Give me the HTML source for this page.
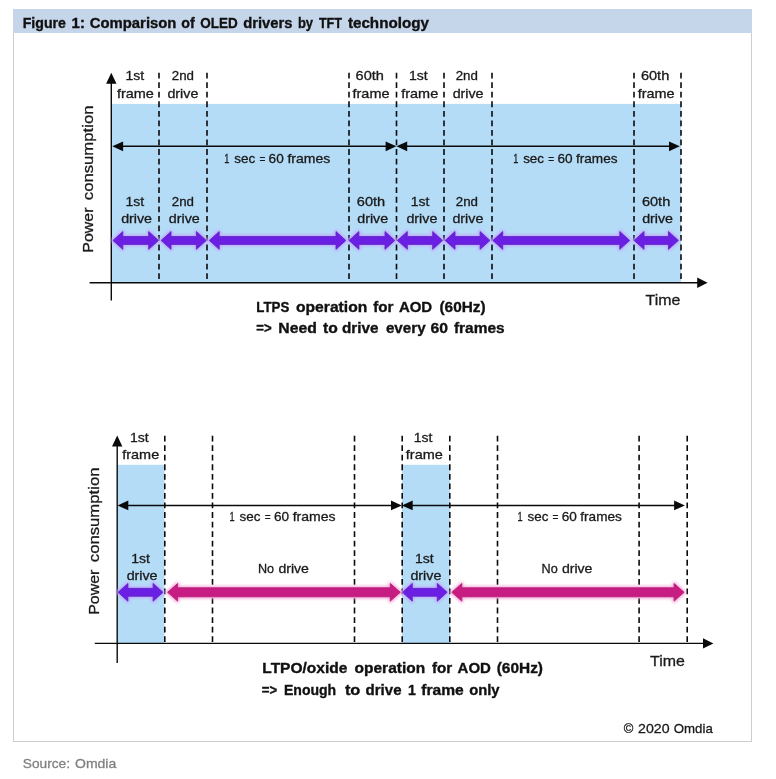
<!DOCTYPE html>
<html><head><meta charset="utf-8"><title>Figure 1</title>
<style>
html,body{margin:0;padding:0;background:#fff;}
body{width:776px;height:779px;overflow:hidden;font-family:"Liberation Sans",sans-serif;}
svg{display:block;will-change:transform;}
svg text{font-family:"Liberation Sans",sans-serif;}
</style></head><body>
<svg width="776" height="779" viewBox="0 0 776 779">
<defs><filter id="gl" x="-20%" y="-60%" width="140%" height="220%"><feGaussianBlur stdDeviation="1.5"/></filter></defs>
<g>

<rect x="13.5" y="9.5" width="738" height="732" fill="#ffffff" stroke="#cdcdcd" stroke-width="1"/>
<rect x="13" y="9" width="739" height="24" fill="#c6d6ea"/>
<text x="22.70" y="27.5" font-size="14.7" font-weight="bold" fill="#111" stroke="#111" stroke-width="0.35" textLength="43.31" lengthAdjust="spacingAndGlyphs">Figure</text>
<text x="71.60" y="27.5" font-size="14.7" font-weight="bold" fill="#111" stroke="#111" stroke-width="0.35" textLength="13.29" lengthAdjust="spacingAndGlyphs">1:</text>
<text x="89.80" y="27.5" font-size="14.7" font-weight="bold" fill="#111" stroke="#111" stroke-width="0.35" textLength="86.59" lengthAdjust="spacingAndGlyphs">Comparison</text>
<text x="181.30" y="27.5" font-size="14.7" font-weight="bold" fill="#111" stroke="#111" stroke-width="0.35" textLength="13.48" lengthAdjust="spacingAndGlyphs">of</text>
<text x="200.30" y="27.5" font-size="14.7" font-weight="bold" fill="#111" stroke="#111" stroke-width="0.35" textLength="37.41" lengthAdjust="spacingAndGlyphs">OLED</text>
<text x="243.20" y="27.5" font-size="14.7" font-weight="bold" fill="#111" stroke="#111" stroke-width="0.35" textLength="49.21" lengthAdjust="spacingAndGlyphs">drivers</text>
<text x="297.90" y="27.5" font-size="14.7" font-weight="bold" fill="#111" stroke="#111" stroke-width="0.35" textLength="15.19" lengthAdjust="spacingAndGlyphs">by</text>
<text x="318.90" y="27.5" font-size="14.7" font-weight="bold" fill="#111" stroke="#111" stroke-width="0.35" textLength="23.20" lengthAdjust="spacingAndGlyphs">TFT</text>
<text x="347.90" y="27.5" font-size="14.7" font-weight="bold" fill="#111" stroke="#111" stroke-width="0.35" textLength="81.12" lengthAdjust="spacingAndGlyphs">technology</text>
<rect x="112" y="103.9" width="569" height="179" fill="#b4dcf7"/>
<line x1="159" y1="72.7" x2="159" y2="283" stroke="#0a0a0a" stroke-width="1.6" stroke-dasharray="5.8 3.75"/>
<line x1="207" y1="72.7" x2="207" y2="283" stroke="#0a0a0a" stroke-width="1.6" stroke-dasharray="5.8 3.75"/>
<line x1="349" y1="72.7" x2="349" y2="283" stroke="#0a0a0a" stroke-width="1.6" stroke-dasharray="5.8 3.75"/>
<line x1="396.5" y1="72.7" x2="396.5" y2="283" stroke="#0a0a0a" stroke-width="1.6" stroke-dasharray="5.8 3.75"/>
<line x1="444" y1="72.7" x2="444" y2="283" stroke="#0a0a0a" stroke-width="1.6" stroke-dasharray="5.8 3.75"/>
<line x1="492" y1="72.7" x2="492" y2="283" stroke="#0a0a0a" stroke-width="1.6" stroke-dasharray="5.8 3.75"/>
<line x1="634" y1="72.7" x2="634" y2="283" stroke="#0a0a0a" stroke-width="1.6" stroke-dasharray="5.8 3.75"/>
<line x1="681" y1="72.7" x2="681" y2="283" stroke="#0a0a0a" stroke-width="1.6" stroke-dasharray="5.8 3.75"/>
<line x1="111.3" y1="300.5" x2="111.3" y2="80" stroke="#0a0a0a" stroke-width="1.4"/>
<polygon points="111.3,72.7 106.1,83.7 116.5,83.7" fill="#0a0a0a"/>
<line x1="89.6" y1="282.8" x2="700" y2="282.8" stroke="#0a0a0a" stroke-width="1.4"/>
<polygon points="707.6,282.8 697.2,277.6 697.2,288" fill="#0a0a0a"/>
<line x1="116.3" y1="146.3" x2="392.4" y2="146.3" stroke="#0a0a0a" stroke-width="1.5"/>
<polygon points="112.3,146.3 123.1,141.4 123.1,151.20000000000002" fill="#0a0a0a"/>
<polygon points="396.4,146.3 385.59999999999997,141.4 385.59999999999997,151.20000000000002" fill="#0a0a0a"/>
<line x1="400.4" y1="146.3" x2="675.8" y2="146.3" stroke="#0a0a0a" stroke-width="1.5"/>
<polygon points="396.4,146.3 407.2,141.4 407.2,151.20000000000002" fill="#0a0a0a"/>
<polygon points="679.8,146.3 669.0,141.4 669.0,151.20000000000002" fill="#0a0a0a"/>
<text x="224.20" y="163.4" font-size="12.7" font-weight="normal" fill="#1a1a1a" stroke="#1a1a1a" stroke-width="0.3" textLength="5.11" lengthAdjust="spacingAndGlyphs">1</text>
<text x="234.30" y="163.4" font-size="12.7" font-weight="normal" fill="#1a1a1a" stroke="#1a1a1a" stroke-width="0.3" textLength="20.92" lengthAdjust="spacingAndGlyphs">sec</text>
<text x="259.40" y="163.4" font-size="12.7" font-weight="normal" fill="#1a1a1a" stroke="#1a1a1a" stroke-width="0.3" textLength="5.89" lengthAdjust="spacingAndGlyphs">=</text>
<text x="268.60" y="163.4" font-size="12.7" font-weight="normal" fill="#1a1a1a" stroke="#1a1a1a" stroke-width="0.3" textLength="15.10" lengthAdjust="spacingAndGlyphs">60</text>
<text x="287.40" y="163.4" font-size="12.7" font-weight="normal" fill="#1a1a1a" stroke="#1a1a1a" stroke-width="0.3" textLength="42.92" lengthAdjust="spacingAndGlyphs">frames</text>
<text x="513.30" y="163.4" font-size="12.7" font-weight="normal" fill="#1a1a1a" stroke="#1a1a1a" stroke-width="0.3" textLength="5.11" lengthAdjust="spacingAndGlyphs">1</text>
<text x="523.20" y="163.4" font-size="12.7" font-weight="normal" fill="#1a1a1a" stroke="#1a1a1a" stroke-width="0.3" textLength="20.82" lengthAdjust="spacingAndGlyphs">sec</text>
<text x="548.30" y="163.4" font-size="12.7" font-weight="normal" fill="#1a1a1a" stroke="#1a1a1a" stroke-width="0.3" textLength="5.89" lengthAdjust="spacingAndGlyphs">=</text>
<text x="557.50" y="163.4" font-size="12.7" font-weight="normal" fill="#1a1a1a" stroke="#1a1a1a" stroke-width="0.3" textLength="15.10" lengthAdjust="spacingAndGlyphs">60</text>
<text x="576.00" y="163.4" font-size="12.7" font-weight="normal" fill="#1a1a1a" stroke="#1a1a1a" stroke-width="0.3" textLength="41.52" lengthAdjust="spacingAndGlyphs">frames</text>
<text x="125.50" y="80.1" font-size="12.7" font-weight="normal" fill="#1a1a1a" stroke="#1a1a1a" stroke-width="0.3" textLength="18.69" lengthAdjust="spacingAndGlyphs">1st</text>
<text x="116.95" y="97.6" font-size="12.7" font-weight="normal" fill="#1a1a1a" stroke="#1a1a1a" stroke-width="0.3" textLength="36.92" lengthAdjust="spacingAndGlyphs">frame</text>
<text x="171.75" y="80.1" font-size="12.7" font-weight="normal" fill="#1a1a1a" stroke="#1a1a1a" stroke-width="0.3" textLength="22.21" lengthAdjust="spacingAndGlyphs">2nd</text>
<text x="167.45" y="97.6" font-size="12.7" font-weight="normal" fill="#1a1a1a" stroke="#1a1a1a" stroke-width="0.3" textLength="30.90" lengthAdjust="spacingAndGlyphs">drive</text>
<text x="355.60" y="80.1" font-size="12.7" font-weight="normal" fill="#1a1a1a" stroke="#1a1a1a" stroke-width="0.3" textLength="28.38" lengthAdjust="spacingAndGlyphs">60th</text>
<text x="352.55" y="97.6" font-size="12.7" font-weight="normal" fill="#1a1a1a" stroke="#1a1a1a" stroke-width="0.3" textLength="36.92" lengthAdjust="spacingAndGlyphs">frame</text>
<text x="408.95" y="80.1" font-size="12.7" font-weight="normal" fill="#1a1a1a" stroke="#1a1a1a" stroke-width="0.3" textLength="18.69" lengthAdjust="spacingAndGlyphs">1st</text>
<text x="401.25" y="97.6" font-size="12.7" font-weight="normal" fill="#1a1a1a" stroke="#1a1a1a" stroke-width="0.3" textLength="36.92" lengthAdjust="spacingAndGlyphs">frame</text>
<text x="455.70" y="80.1" font-size="12.7" font-weight="normal" fill="#1a1a1a" stroke="#1a1a1a" stroke-width="0.3" textLength="22.21" lengthAdjust="spacingAndGlyphs">2nd</text>
<text x="452.65" y="97.6" font-size="12.7" font-weight="normal" fill="#1a1a1a" stroke="#1a1a1a" stroke-width="0.3" textLength="30.90" lengthAdjust="spacingAndGlyphs">drive</text>
<text x="640.90" y="80.1" font-size="12.7" font-weight="normal" fill="#1a1a1a" stroke="#1a1a1a" stroke-width="0.3" textLength="28.38" lengthAdjust="spacingAndGlyphs">60th</text>
<text x="637.65" y="97.6" font-size="12.7" font-weight="normal" fill="#1a1a1a" stroke="#1a1a1a" stroke-width="0.3" textLength="36.92" lengthAdjust="spacingAndGlyphs">frame</text>
<text x="125.45" y="205.5" font-size="12.7" font-weight="normal" fill="#1a1a1a" stroke="#1a1a1a" stroke-width="0.3" textLength="18.69" lengthAdjust="spacingAndGlyphs">1st</text>
<text x="121.15" y="222.9" font-size="12.7" font-weight="normal" fill="#1a1a1a" stroke="#1a1a1a" stroke-width="0.3" textLength="30.90" lengthAdjust="spacingAndGlyphs">drive</text>
<text x="171.80" y="205.5" font-size="12.7" font-weight="normal" fill="#1a1a1a" stroke="#1a1a1a" stroke-width="0.3" textLength="22.21" lengthAdjust="spacingAndGlyphs">2nd</text>
<text x="168.85" y="222.9" font-size="12.7" font-weight="normal" fill="#1a1a1a" stroke="#1a1a1a" stroke-width="0.3" textLength="30.90" lengthAdjust="spacingAndGlyphs">drive</text>
<text x="356.80" y="205.5" font-size="12.7" font-weight="normal" fill="#1a1a1a" stroke="#1a1a1a" stroke-width="0.3" textLength="28.38" lengthAdjust="spacingAndGlyphs">60th</text>
<text x="357.25" y="222.9" font-size="12.7" font-weight="normal" fill="#1a1a1a" stroke="#1a1a1a" stroke-width="0.3" textLength="30.90" lengthAdjust="spacingAndGlyphs">drive</text>
<text x="410.65" y="205.5" font-size="12.7" font-weight="normal" fill="#1a1a1a" stroke="#1a1a1a" stroke-width="0.3" textLength="18.69" lengthAdjust="spacingAndGlyphs">1st</text>
<text x="406.45" y="222.9" font-size="12.7" font-weight="normal" fill="#1a1a1a" stroke="#1a1a1a" stroke-width="0.3" textLength="30.90" lengthAdjust="spacingAndGlyphs">drive</text>
<text x="455.80" y="205.5" font-size="12.7" font-weight="normal" fill="#1a1a1a" stroke="#1a1a1a" stroke-width="0.3" textLength="22.21" lengthAdjust="spacingAndGlyphs">2nd</text>
<text x="452.45" y="222.9" font-size="12.7" font-weight="normal" fill="#1a1a1a" stroke="#1a1a1a" stroke-width="0.3" textLength="30.90" lengthAdjust="spacingAndGlyphs">drive</text>
<text x="641.90" y="205.5" font-size="12.7" font-weight="normal" fill="#1a1a1a" stroke="#1a1a1a" stroke-width="0.3" textLength="28.38" lengthAdjust="spacingAndGlyphs">60th</text>
<text x="642.15" y="222.9" font-size="12.7" font-weight="normal" fill="#1a1a1a" stroke="#1a1a1a" stroke-width="0.3" textLength="30.90" lengthAdjust="spacingAndGlyphs">drive</text>
<polygon points="112.89999999999999,240.45 122.79999999999998,231.54999999999998 122.79999999999998,236.5 148.7,236.5 148.7,231.54999999999998 158.6,240.45 148.7,249.35 148.7,244.39999999999998 122.79999999999998,244.39999999999998 122.79999999999998,249.35" fill="#c3a6ff" stroke="#c3a6ff" stroke-width="3.4" stroke-linejoin="round" filter="url(#gl)" opacity="1"/>
<polygon points="112.89999999999999,240.45 122.79999999999998,231.54999999999998 122.79999999999998,236.5 148.7,236.5 148.7,231.54999999999998 158.6,240.45 148.7,249.35 148.7,244.39999999999998 122.79999999999998,244.39999999999998 122.79999999999998,249.35" fill="#6a1fe2" stroke="#5a25c4" stroke-width="0.8" stroke-linejoin="miter"/>
<polygon points="161.1,240.45 171.0,231.54999999999998 171.0,236.5 196.4,236.5 196.4,231.54999999999998 206.3,240.45 196.4,249.35 196.4,244.39999999999998 171.0,244.39999999999998 171.0,249.35" fill="#c3a6ff" stroke="#c3a6ff" stroke-width="3.4" stroke-linejoin="round" filter="url(#gl)" opacity="1"/>
<polygon points="161.1,240.45 171.0,231.54999999999998 171.0,236.5 196.4,236.5 196.4,231.54999999999998 206.3,240.45 196.4,249.35 196.4,244.39999999999998 171.0,244.39999999999998 171.0,249.35" fill="#6a1fe2" stroke="#5a25c4" stroke-width="0.8" stroke-linejoin="miter"/>
<polygon points="209.29999999999998,240.45 219.2,231.54999999999998 219.2,236.5 336.0,236.5 336.0,231.54999999999998 345.9,240.45 336.0,249.35 336.0,244.39999999999998 219.2,244.39999999999998 219.2,249.35" fill="#c3a6ff" stroke="#c3a6ff" stroke-width="3.4" stroke-linejoin="round" filter="url(#gl)" opacity="1"/>
<polygon points="209.29999999999998,240.45 219.2,231.54999999999998 219.2,236.5 336.0,236.5 336.0,231.54999999999998 345.9,240.45 336.0,249.35 336.0,244.39999999999998 219.2,244.39999999999998 219.2,249.35" fill="#6a1fe2" stroke="#5a25c4" stroke-width="0.8" stroke-linejoin="miter"/>
<polygon points="349.0,240.45 358.9,231.54999999999998 358.9,236.5 385.0,236.5 385.0,231.54999999999998 394.9,240.45 385.0,249.35 385.0,244.39999999999998 358.9,244.39999999999998 358.9,249.35" fill="#c3a6ff" stroke="#c3a6ff" stroke-width="3.4" stroke-linejoin="round" filter="url(#gl)" opacity="1"/>
<polygon points="349.0,240.45 358.9,231.54999999999998 358.9,236.5 385.0,236.5 385.0,231.54999999999998 394.9,240.45 385.0,249.35 385.0,244.39999999999998 358.9,244.39999999999998 358.9,249.35" fill="#6a1fe2" stroke="#5a25c4" stroke-width="0.8" stroke-linejoin="miter"/>
<polygon points="397.40000000000003,240.45 407.3,231.54999999999998 407.3,236.5 432.7,236.5 432.7,231.54999999999998 442.59999999999997,240.45 432.7,249.35 432.7,244.39999999999998 407.3,244.39999999999998 407.3,249.35" fill="#c3a6ff" stroke="#c3a6ff" stroke-width="3.4" stroke-linejoin="round" filter="url(#gl)" opacity="1"/>
<polygon points="397.40000000000003,240.45 407.3,231.54999999999998 407.3,236.5 432.7,236.5 432.7,231.54999999999998 442.59999999999997,240.45 432.7,249.35 432.7,244.39999999999998 407.3,244.39999999999998 407.3,249.35" fill="#6a1fe2" stroke="#5a25c4" stroke-width="0.8" stroke-linejoin="miter"/>
<polygon points="445.1,240.45 455.0,231.54999999999998 455.0,236.5 480.1,236.5 480.1,231.54999999999998 490.0,240.45 480.1,249.35 480.1,244.39999999999998 455.0,244.39999999999998 455.0,249.35" fill="#c3a6ff" stroke="#c3a6ff" stroke-width="3.4" stroke-linejoin="round" filter="url(#gl)" opacity="1"/>
<polygon points="445.1,240.45 455.0,231.54999999999998 455.0,236.5 480.1,236.5 480.1,231.54999999999998 490.0,240.45 480.1,249.35 480.1,244.39999999999998 455.0,244.39999999999998 455.0,249.35" fill="#6a1fe2" stroke="#5a25c4" stroke-width="0.8" stroke-linejoin="miter"/>
<polygon points="492.8,240.45 502.7,231.54999999999998 502.7,236.5 619.8,236.5 619.8,231.54999999999998 629.6999999999999,240.45 619.8,249.35 619.8,244.39999999999998 502.7,244.39999999999998 502.7,249.35" fill="#c3a6ff" stroke="#c3a6ff" stroke-width="3.4" stroke-linejoin="round" filter="url(#gl)" opacity="1"/>
<polygon points="492.8,240.45 502.7,231.54999999999998 502.7,236.5 619.8,236.5 619.8,231.54999999999998 629.6999999999999,240.45 619.8,249.35 619.8,244.39999999999998 502.7,244.39999999999998 502.7,249.35" fill="#6a1fe2" stroke="#5a25c4" stroke-width="0.8" stroke-linejoin="miter"/>
<polygon points="634.1,240.45 644.0,231.54999999999998 644.0,236.5 668.5,236.5 668.5,231.54999999999998 678.4,240.45 668.5,249.35 668.5,244.39999999999998 644.0,244.39999999999998 644.0,249.35" fill="#c3a6ff" stroke="#c3a6ff" stroke-width="3.4" stroke-linejoin="round" filter="url(#gl)" opacity="1"/>
<polygon points="634.1,240.45 644.0,231.54999999999998 644.0,236.5 668.5,236.5 668.5,231.54999999999998 678.4,240.45 668.5,249.35 668.5,244.39999999999998 644.0,244.39999999999998 644.0,249.35" fill="#6a1fe2" stroke="#5a25c4" stroke-width="0.8" stroke-linejoin="miter"/>
<g transform="translate(92.7,252.8) rotate(-90)">
<text x="0.00" y="0" font-size="15" font-weight="normal" fill="#1a1a1a" stroke="#1a1a1a" stroke-width="0.3" textLength="45.39" lengthAdjust="spacingAndGlyphs">Power</text>
<text x="52.60" y="0" font-size="15" font-weight="normal" fill="#1a1a1a" stroke="#1a1a1a" stroke-width="0.3" textLength="94.70" lengthAdjust="spacingAndGlyphs">consumption</text>
</g>
<text x="645.50" y="305.3" font-size="15.2" font-weight="normal" fill="#1a1a1a" stroke="#1a1a1a" stroke-width="0.3" textLength="34.80" lengthAdjust="spacingAndGlyphs">Time</text>
<text x="256.30" y="311.85" font-size="14.7" font-weight="bold" fill="#111" stroke="#111" stroke-width="0.35" textLength="32.99" lengthAdjust="spacingAndGlyphs">LTPS</text>
<text x="296.00" y="311.85" font-size="14.7" font-weight="bold" fill="#111" stroke="#111" stroke-width="0.35" textLength="71.31" lengthAdjust="spacingAndGlyphs">operation</text>
<text x="373.30" y="311.85" font-size="14.7" font-weight="bold" fill="#111" stroke="#111" stroke-width="0.35" textLength="20.21" lengthAdjust="spacingAndGlyphs">for</text>
<text x="398.90" y="311.85" font-size="14.7" font-weight="bold" fill="#111" stroke="#111" stroke-width="0.35" textLength="33.30" lengthAdjust="spacingAndGlyphs">AOD</text>
<text x="439.50" y="311.85" font-size="14.7" font-weight="bold" fill="#111" stroke="#111" stroke-width="0.35" textLength="46.11" lengthAdjust="spacingAndGlyphs">(60Hz)</text>
<text x="256.30" y="333.4" font-size="14.7" font-weight="bold" fill="#111" stroke="#111" stroke-width="0.35" textLength="15.31" lengthAdjust="spacingAndGlyphs">=&gt;</text>
<text x="278.30" y="333.4" font-size="14.7" font-weight="bold" fill="#111" stroke="#111" stroke-width="0.35" textLength="38.51" lengthAdjust="spacingAndGlyphs">Need</text>
<text x="323.10" y="333.4" font-size="14.7" font-weight="bold" fill="#111" stroke="#111" stroke-width="0.35" textLength="14.78" lengthAdjust="spacingAndGlyphs">to</text>
<text x="342.00" y="333.4" font-size="14.7" font-weight="bold" fill="#111" stroke="#111" stroke-width="0.35" textLength="36.50" lengthAdjust="spacingAndGlyphs">drive</text>
<text x="385.90" y="333.4" font-size="14.7" font-weight="bold" fill="#111" stroke="#111" stroke-width="0.35" textLength="39.68" lengthAdjust="spacingAndGlyphs">every</text>
<text x="430.40" y="333.4" font-size="14.7" font-weight="bold" fill="#111" stroke="#111" stroke-width="0.35" textLength="17.50" lengthAdjust="spacingAndGlyphs">60</text>
<text x="453.90" y="333.4" font-size="14.7" font-weight="bold" fill="#111" stroke="#111" stroke-width="0.35" textLength="50.70" lengthAdjust="spacingAndGlyphs">frames</text>
<rect x="117.5" y="464.8" width="47" height="179" fill="#b4dcf7"/>
<rect x="402" y="464.8" width="48" height="179" fill="#b4dcf7"/>
<line x1="164.8" y1="435.7" x2="164.8" y2="643.5" stroke="#0a0a0a" stroke-width="1.6" stroke-dasharray="5.8 3.75"/>
<line x1="212.5" y1="435.7" x2="212.5" y2="643.5" stroke="#0a0a0a" stroke-width="1.6" stroke-dasharray="5.8 3.75"/>
<line x1="354.5" y1="435.7" x2="354.5" y2="643.5" stroke="#0a0a0a" stroke-width="1.6" stroke-dasharray="5.8 3.75"/>
<line x1="402.2" y1="435.7" x2="402.2" y2="643.5" stroke="#0a0a0a" stroke-width="1.6" stroke-dasharray="5.8 3.75"/>
<line x1="449.8" y1="435.7" x2="449.8" y2="643.5" stroke="#0a0a0a" stroke-width="1.6" stroke-dasharray="5.8 3.75"/>
<line x1="497.5" y1="435.7" x2="497.5" y2="643.5" stroke="#0a0a0a" stroke-width="1.6" stroke-dasharray="5.8 3.75"/>
<line x1="639.1" y1="435.7" x2="639.1" y2="643.5" stroke="#0a0a0a" stroke-width="1.6" stroke-dasharray="5.8 3.75"/>
<line x1="687.2" y1="435.7" x2="687.2" y2="643.5" stroke="#0a0a0a" stroke-width="1.6" stroke-dasharray="5.8 3.75"/>
<line x1="117.2" y1="663" x2="117.2" y2="443" stroke="#0a0a0a" stroke-width="1.4"/>
<polygon points="117.2,435.6 112,446.4 122.4,446.4" fill="#0a0a0a"/>
<line x1="94.8" y1="643.4" x2="706" y2="643.4" stroke="#0a0a0a" stroke-width="1.4"/>
<polygon points="713.4,643.4 703,638.2 703,648.6" fill="#0a0a0a"/>
<line x1="121.5" y1="505.4" x2="397.8" y2="505.4" stroke="#0a0a0a" stroke-width="1.5"/>
<polygon points="117.5,505.4 128.3,500.5 128.3,510.29999999999995" fill="#0a0a0a"/>
<polygon points="401.8,505.4 391.0,500.5 391.0,510.29999999999995" fill="#0a0a0a"/>
<line x1="405.9" y1="505.4" x2="680.9" y2="505.4" stroke="#0a0a0a" stroke-width="1.5"/>
<polygon points="401.9,505.4 412.7,500.5 412.7,510.29999999999995" fill="#0a0a0a"/>
<polygon points="684.9,505.4 674.1,500.5 674.1,510.29999999999995" fill="#0a0a0a"/>
<text x="229.50" y="520.5" font-size="12.7" font-weight="normal" fill="#1a1a1a" stroke="#1a1a1a" stroke-width="0.3" textLength="5.11" lengthAdjust="spacingAndGlyphs">1</text>
<text x="239.60" y="520.5" font-size="12.7" font-weight="normal" fill="#1a1a1a" stroke="#1a1a1a" stroke-width="0.3" textLength="20.92" lengthAdjust="spacingAndGlyphs">sec</text>
<text x="264.70" y="520.5" font-size="12.7" font-weight="normal" fill="#1a1a1a" stroke="#1a1a1a" stroke-width="0.3" textLength="5.89" lengthAdjust="spacingAndGlyphs">=</text>
<text x="273.90" y="520.5" font-size="12.7" font-weight="normal" fill="#1a1a1a" stroke="#1a1a1a" stroke-width="0.3" textLength="15.10" lengthAdjust="spacingAndGlyphs">60</text>
<text x="292.70" y="520.5" font-size="12.7" font-weight="normal" fill="#1a1a1a" stroke="#1a1a1a" stroke-width="0.3" textLength="42.92" lengthAdjust="spacingAndGlyphs">frames</text>
<text x="517.60" y="520.5" font-size="12.7" font-weight="normal" fill="#1a1a1a" stroke="#1a1a1a" stroke-width="0.3" textLength="5.11" lengthAdjust="spacingAndGlyphs">1</text>
<text x="527.50" y="520.5" font-size="12.7" font-weight="normal" fill="#1a1a1a" stroke="#1a1a1a" stroke-width="0.3" textLength="20.82" lengthAdjust="spacingAndGlyphs">sec</text>
<text x="552.60" y="520.5" font-size="12.7" font-weight="normal" fill="#1a1a1a" stroke="#1a1a1a" stroke-width="0.3" textLength="5.89" lengthAdjust="spacingAndGlyphs">=</text>
<text x="561.80" y="520.5" font-size="12.7" font-weight="normal" fill="#1a1a1a" stroke="#1a1a1a" stroke-width="0.3" textLength="15.10" lengthAdjust="spacingAndGlyphs">60</text>
<text x="580.30" y="520.5" font-size="12.7" font-weight="normal" fill="#1a1a1a" stroke="#1a1a1a" stroke-width="0.3" textLength="41.52" lengthAdjust="spacingAndGlyphs">frames</text>
<text x="130.05" y="441.5" font-size="12.7" font-weight="normal" fill="#1a1a1a" stroke="#1a1a1a" stroke-width="0.3" textLength="18.69" lengthAdjust="spacingAndGlyphs">1st</text>
<text x="122.25" y="458.6" font-size="12.7" font-weight="normal" fill="#1a1a1a" stroke="#1a1a1a" stroke-width="0.3" textLength="36.92" lengthAdjust="spacingAndGlyphs">frame</text>
<text x="413.65" y="441.5" font-size="12.7" font-weight="normal" fill="#1a1a1a" stroke="#1a1a1a" stroke-width="0.3" textLength="18.69" lengthAdjust="spacingAndGlyphs">1st</text>
<text x="405.85" y="458.6" font-size="12.7" font-weight="normal" fill="#1a1a1a" stroke="#1a1a1a" stroke-width="0.3" textLength="36.92" lengthAdjust="spacingAndGlyphs">frame</text>
<text x="131.15" y="562.6" font-size="12.7" font-weight="normal" fill="#1a1a1a" stroke="#1a1a1a" stroke-width="0.3" textLength="18.69" lengthAdjust="spacingAndGlyphs">1st</text>
<text x="126.65" y="580" font-size="12.7" font-weight="normal" fill="#1a1a1a" stroke="#1a1a1a" stroke-width="0.3" textLength="30.90" lengthAdjust="spacingAndGlyphs">drive</text>
<text x="414.95" y="562.6" font-size="12.7" font-weight="normal" fill="#1a1a1a" stroke="#1a1a1a" stroke-width="0.3" textLength="18.69" lengthAdjust="spacingAndGlyphs">1st</text>
<text x="410.45" y="580" font-size="12.7" font-weight="normal" fill="#1a1a1a" stroke="#1a1a1a" stroke-width="0.3" textLength="30.90" lengthAdjust="spacingAndGlyphs">drive</text>
<text x="258.00" y="573.4" font-size="12.7" font-weight="normal" fill="#1a1a1a" stroke="#1a1a1a" stroke-width="0.3" textLength="16.11" lengthAdjust="spacingAndGlyphs">No</text>
<text x="278.40" y="573.4" font-size="12.7" font-weight="normal" fill="#1a1a1a" stroke="#1a1a1a" stroke-width="0.3" textLength="30.50" lengthAdjust="spacingAndGlyphs">drive</text>
<text x="541.60" y="573.4" font-size="12.7" font-weight="normal" fill="#1a1a1a" stroke="#1a1a1a" stroke-width="0.3" textLength="16.21" lengthAdjust="spacingAndGlyphs">No</text>
<text x="561.90" y="573.4" font-size="12.7" font-weight="normal" fill="#1a1a1a" stroke="#1a1a1a" stroke-width="0.3" textLength="30.50" lengthAdjust="spacingAndGlyphs">drive</text>
<polygon points="118.0,592.3 127.9,583.4 127.9,588.3499999999999 153.1,588.3499999999999 153.1,583.4 163.0,592.3 153.1,601.1999999999999 153.1,596.25 127.9,596.25 127.9,601.1999999999999" fill="#c3a6ff" stroke="#c3a6ff" stroke-width="3.4" stroke-linejoin="round" filter="url(#gl)" opacity="1"/>
<polygon points="118.0,592.3 127.9,583.4 127.9,588.3499999999999 153.1,588.3499999999999 153.1,583.4 163.0,592.3 153.1,601.1999999999999 153.1,596.25 127.9,596.25 127.9,601.1999999999999" fill="#6a1fe2" stroke="#5a25c4" stroke-width="0.8" stroke-linejoin="miter"/>
<polygon points="402.40000000000003,592.3 412.3,583.4 412.3,588.3499999999999 437.3,588.3499999999999 437.3,583.4 447.2,592.3 437.3,601.1999999999999 437.3,596.25 412.3,596.25 412.3,601.1999999999999" fill="#c3a6ff" stroke="#c3a6ff" stroke-width="3.4" stroke-linejoin="round" filter="url(#gl)" opacity="1"/>
<polygon points="402.40000000000003,592.3 412.3,583.4 412.3,588.3499999999999 437.3,588.3499999999999 437.3,583.4 447.2,592.3 437.3,601.1999999999999 437.3,596.25 412.3,596.25 412.3,601.1999999999999" fill="#6a1fe2" stroke="#5a25c4" stroke-width="0.8" stroke-linejoin="miter"/>
<polygon points="167.6,592.3 177.6,583.5 177.6,587.8 390.29999999999995,587.8 390.29999999999995,583.5 400.29999999999995,592.3 390.29999999999995,601.0999999999999 390.29999999999995,596.8 177.6,596.8 177.6,601.0999999999999" fill="#f7a8da" stroke="#f7a8da" stroke-width="3.4" stroke-linejoin="round" filter="url(#gl)" opacity="1"/>
<polygon points="167.6,592.3 177.6,583.5 177.6,587.8 390.29999999999995,587.8 390.29999999999995,583.5 400.29999999999995,592.3 390.29999999999995,601.0999999999999 390.29999999999995,596.8 177.6,596.8 177.6,601.0999999999999" fill="#c71c82" stroke="#b21a72" stroke-width="0.8" stroke-linejoin="miter"/>
<polygon points="451.8,592.3 461.8,583.5 461.8,587.8 674.1,587.8 674.1,583.5 684.1,592.3 674.1,601.0999999999999 674.1,596.8 461.8,596.8 461.8,601.0999999999999" fill="#f7a8da" stroke="#f7a8da" stroke-width="3.4" stroke-linejoin="round" filter="url(#gl)" opacity="1"/>
<polygon points="451.8,592.3 461.8,583.5 461.8,587.8 674.1,587.8 674.1,583.5 684.1,592.3 674.1,601.0999999999999 674.1,596.8 461.8,596.8 461.8,601.0999999999999" fill="#c71c82" stroke="#b21a72" stroke-width="0.8" stroke-linejoin="miter"/>
<g transform="translate(98.7,614.8) rotate(-90)">
<text x="0.00" y="0" font-size="15" font-weight="normal" fill="#1a1a1a" stroke="#1a1a1a" stroke-width="0.3" textLength="45.19" lengthAdjust="spacingAndGlyphs">Power</text>
<text x="52.60" y="0" font-size="15" font-weight="normal" fill="#1a1a1a" stroke="#1a1a1a" stroke-width="0.3" textLength="94.70" lengthAdjust="spacingAndGlyphs">consumption</text>
</g>
<text x="650.00" y="666.4" font-size="15.2" font-weight="normal" fill="#1a1a1a" stroke="#1a1a1a" stroke-width="0.3" textLength="34.80" lengthAdjust="spacingAndGlyphs">Time</text>
<text x="262.30" y="672.9" font-size="14.7" font-weight="bold" fill="#111" stroke="#111" stroke-width="0.35" textLength="85.09" lengthAdjust="spacingAndGlyphs">LTPO/oxide</text>
<text x="354.60" y="672.9" font-size="14.7" font-weight="bold" fill="#111" stroke="#111" stroke-width="0.35" textLength="70.51" lengthAdjust="spacingAndGlyphs">operation</text>
<text x="431.90" y="672.9" font-size="14.7" font-weight="bold" fill="#111" stroke="#111" stroke-width="0.35" textLength="20.31" lengthAdjust="spacingAndGlyphs">for</text>
<text x="457.60" y="672.9" font-size="14.7" font-weight="bold" fill="#111" stroke="#111" stroke-width="0.35" textLength="33.30" lengthAdjust="spacingAndGlyphs">AOD</text>
<text x="496.70" y="672.9" font-size="14.7" font-weight="bold" fill="#111" stroke="#111" stroke-width="0.35" textLength="46.31" lengthAdjust="spacingAndGlyphs">(60Hz)</text>
<text x="261.80" y="694.7" font-size="14.7" font-weight="bold" fill="#111" stroke="#111" stroke-width="0.35" textLength="15.41" lengthAdjust="spacingAndGlyphs">=&gt;</text>
<text x="284.00" y="694.7" font-size="14.7" font-weight="bold" fill="#111" stroke="#111" stroke-width="0.35" textLength="52.18" lengthAdjust="spacingAndGlyphs">Enough</text>
<text x="344.90" y="694.7" font-size="14.7" font-weight="bold" fill="#111" stroke="#111" stroke-width="0.35" textLength="15.48" lengthAdjust="spacingAndGlyphs">to</text>
<text x="365.60" y="694.7" font-size="14.7" font-weight="bold" fill="#111" stroke="#111" stroke-width="0.35" textLength="35.90" lengthAdjust="spacingAndGlyphs">drive</text>
<text x="408.10" y="694.7" font-size="14.7" font-weight="bold" fill="#111" stroke="#111" stroke-width="0.35" textLength="7.82" lengthAdjust="spacingAndGlyphs">1</text>
<text x="421.30" y="694.7" font-size="14.7" font-weight="bold" fill="#111" stroke="#111" stroke-width="0.35" textLength="42.52" lengthAdjust="spacingAndGlyphs">frame</text>
<text x="469.20" y="694.7" font-size="14.7" font-weight="bold" fill="#111" stroke="#111" stroke-width="0.35" textLength="30.41" lengthAdjust="spacingAndGlyphs">only</text>
<text x="623.80" y="733.1" font-size="13.2" font-weight="normal" fill="#1a1a1a" stroke="#1a1a1a" stroke-width="0.3" textLength="9.59" lengthAdjust="spacingAndGlyphs">©</text>
<text x="638.10" y="733.1" font-size="13.2" font-weight="normal" fill="#1a1a1a" stroke="#1a1a1a" stroke-width="0.3" textLength="31.50" lengthAdjust="spacingAndGlyphs">2020</text>
<text x="673.80" y="733.1" font-size="13.2" font-weight="normal" fill="#1a1a1a" stroke="#1a1a1a" stroke-width="0.3" textLength="38.97" lengthAdjust="spacingAndGlyphs">Omdia</text>
<text x="22.80" y="767.6" font-size="13.5" font-weight="normal" fill="#808080" stroke="#808080" stroke-width="0.3" textLength="47.18" lengthAdjust="spacingAndGlyphs">Source:</text>
<text x="75.00" y="767.6" font-size="13.5" font-weight="normal" fill="#808080" stroke="#808080" stroke-width="0.3" textLength="41.27" lengthAdjust="spacingAndGlyphs">Omdia</text>
</g></svg></body></html>
